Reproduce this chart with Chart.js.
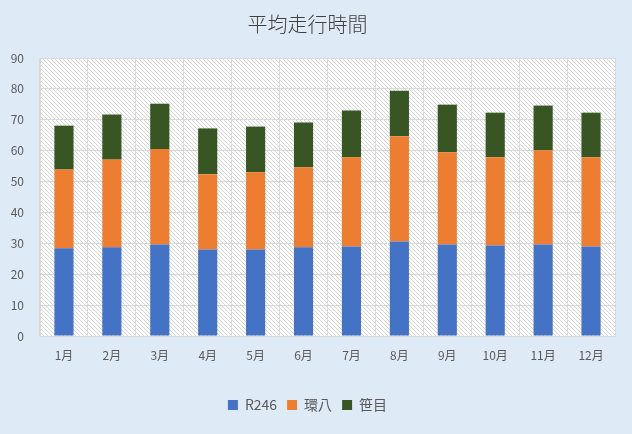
<!DOCTYPE html>
<html>
<head>
<meta charset="utf-8">
<script src="https://cdn.jsdelivr.net/npm/chart.js@4/dist/chart.umd.min.js"></script>
<style>
  html, body { margin: 0; padding: 0; background: #DEEBF7; }
  #wrap { width: 632px; height: 434px; }
</style>
</head>
<body>
<div id="wrap"><canvas id="chart"></canvas></div>
<script>
// 月
const months = ["1月", "2月", "3月", "4月", "5月", "6月", "7月", "8月", "9月", "10月", "11月", "12月"];
// 路線ごとの時間（積み上げ）
const r246 = [28.4, 28.7, 29.6, 28.0, 28.0, 28.7, 29.0, 30.6, 29.6, 29.3, 29.6, 29.0];
const kanpachi = [25.5, 28.4, 30.9, 24.4, 25.0, 25.9, 28.9, 34.1, 29.9, 28.6, 30.5, 28.9];
const sasame = [14.2, 14.6, 14.7, 14.8, 14.8, 14.5, 15.1, 14.7, 15.4, 14.4, 14.5, 14.4];
const yTicks = [0, 10, 20, 30, 40, 50, 60, 70, 80, 90];

const fontFam = "'Noto Sans CJK JP', 'Noto Sans', sans-serif";
const textColor = "#595959";
const gridColor = "#D9D9D9";

// 斜線パターン
function makeHatch() {
  const c = document.createElement("canvas");
  c.width = 4; c.height = 4;
  const g = c.getContext("2d");
  g.fillStyle = "#ffffff";
  g.fillRect(0, 0, 4, 4);
  g.strokeStyle = "#d4d4d4";
  g.lineWidth = 1;
  g.beginPath();
  g.moveTo(-1, -1); g.lineTo(5, 5);
  g.moveTo(-1, 3); g.lineTo(1, 5);
  g.moveTo(3, -1); g.lineTo(5, 1);
  g.stroke();
  return g.createPattern(c, "repeat");
}

const bgPlugin = {
  id: "bg",
  beforeDraw(chart) {
    const ctx = chart.ctx;
    const a = chart.chartArea;
    ctx.save();
    ctx.fillStyle = "#DEEBF7";
    ctx.fillRect(0, 0, chart.width, chart.height);
    ctx.fillStyle = makeHatch();
    ctx.fillRect(a.left, a.top, a.right - a.left, a.bottom - a.top);
    ctx.restore();
  }
};

const ctx = document.getElementById("chart");

new Chart(ctx, {
  type: "bar",
  data: {
    labels: months,
    datasets: [
      { label: "R246", data: r246, backgroundColor: "#4472C4" },
      { label: "環八", data: kanpachi, backgroundColor: "#ED7D31" },
      { label: "笹目", data: sasame, backgroundColor: "#375623" }
    ]
  },
  options: {
    responsive: true,
    maintainAspectRatio: false,
    animation: false,
    layout: { padding: { left: 0, right: 17, top: 0, bottom: 12 } },
    datasets: { bar: { categoryPercentage: 1, barPercentage: 0.4 } },
    plugins: {
      title: {
        display: true,
        text: "平均走行時間",
        color: "#404040",
        font: { family: fontFam, size: 20, weight: "300" },
        padding: { top: 12, bottom: 22 }
      },
      legend: {
        position: "bottom",
        labels: {
          color: textColor,
          font: { family: fontFam, size: 14 },
          boxWidth: 10,
          boxHeight: 10,
          padding: 10
        }
      },
      tooltip: { enabled: false }
    },
    scales: {
      x: {
        stacked: true,
        grid: { color: gridColor, drawTicks: false },
        border: { color: gridColor },
        ticks: { color: textColor, font: { family: fontFam, size: 12 }, padding: 12 },
        afterFit(s) { s.height = 52; }
      },
      y: {
        stacked: true,
        min: 0,
        max: 90,
        afterBuildTicks(s) { s.ticks = yTicks.map(v => ({ value: v })); },
        grid: { color: gridColor, drawTicks: false },
        border: { color: gridColor },
        ticks: { color: textColor, font: { family: fontFam, size: 12 }, padding: 16 },
        afterFit(s) { s.width = 40; }
      }
    }
  },
  plugins: [bgPlugin]
});
</script>
</body>
</html>
